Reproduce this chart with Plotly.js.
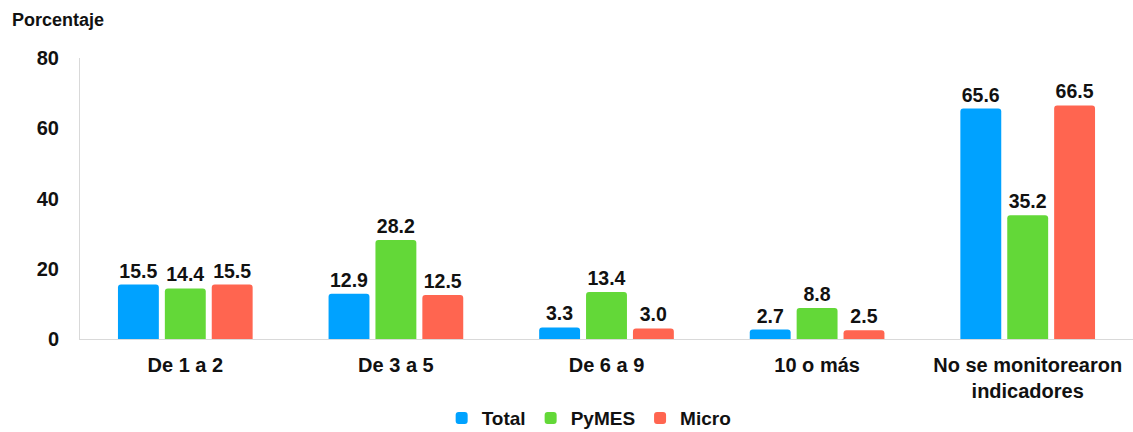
<!DOCTYPE html>
<html><head><meta charset="utf-8">
<script src="https://cdn.plot.ly/plotly-3.0.1.min.js"></script>
<style>body{margin:0;background:#fff}#c{width:1133px;height:432px}</style>
</head><body><div id="c"></div>
<script>
const categories = ["De 1 a 2", "De 3 a 5", "De 6 a 9", "10 o más", "No se monitorearon<br>indicadores"];
const total = [15.5, 12.9, 3.3, 2.7, 65.6];
const pymes = [14.4, 28.2, 13.4, 8.8, 35.2];
const micro = [15.5, 12.5, 3.0, 2.5, 66.5];
const yTicks = [0, 20, 40, 60, 80];

const font = "Liberation Sans, Arial, sans-serif";
const bf = (size) => ({family: font, size: size, color: "#111", weight: "bold"});
function tr(name, vals, color) {
  return {
    type: "bar", name: name, x: categories, y: vals,
    text: vals.map(v => v.toFixed(1)), textposition: "outside",
    textfont: bf(19.5),
    cliponaxis: false,
    marker: {color: color, cornerradius: 3, line: {width: 0}}
  };
}
const data = [tr("Total", total, "#00A2FF"), tr("PyMES", pymes, "#63D838"), tr("Micro", micro, "#FF6550")];
const layout = {
  width: 1133, height: 432,
  margin: {l: 80, r: 0, t: 58, b: 93},
  barmode: "group", bargap: 0.332, bargroupgap: 0.128,
  font: {family: font, color: "#111"},
  paper_bgcolor: "#fff", plot_bgcolor: "#fff",
  showlegend: true,
  legend: {orientation: "h", x: 0.52, xref: "container", xanchor: "center",
           y: 0.032, yref: "container", yanchor: "middle",
           font: bf(19), itemwidth: 30, traceorder: "normal"},
  xaxis: {showline: true, linecolor: "#d9d9d9", linewidth: 1, ticks: "", automargin: false,
          tickfont: bf(20), ticklabelstandoff: 8, fixedrange: true},
  yaxis: {range: [0, 80], tickvals: yTicks, showgrid: false, zeroline: false, automargin: false,
          showline: true, linecolor: "#d9d9d9", linewidth: 1, ticks: "",
          tickfont: bf(20), ticklabelstandoff: 16},
  annotations: [{text: "Porcentaje", xref: "paper", yref: "paper", x: -0.0665, y: 1.135,
                 xanchor: "left", yanchor: "middle", showarrow: false,
                 font: bf(18)}]
};
Plotly.newPlot("c", data, layout, {displayModeBar: false, staticPlot: true});
</script></body></html>
